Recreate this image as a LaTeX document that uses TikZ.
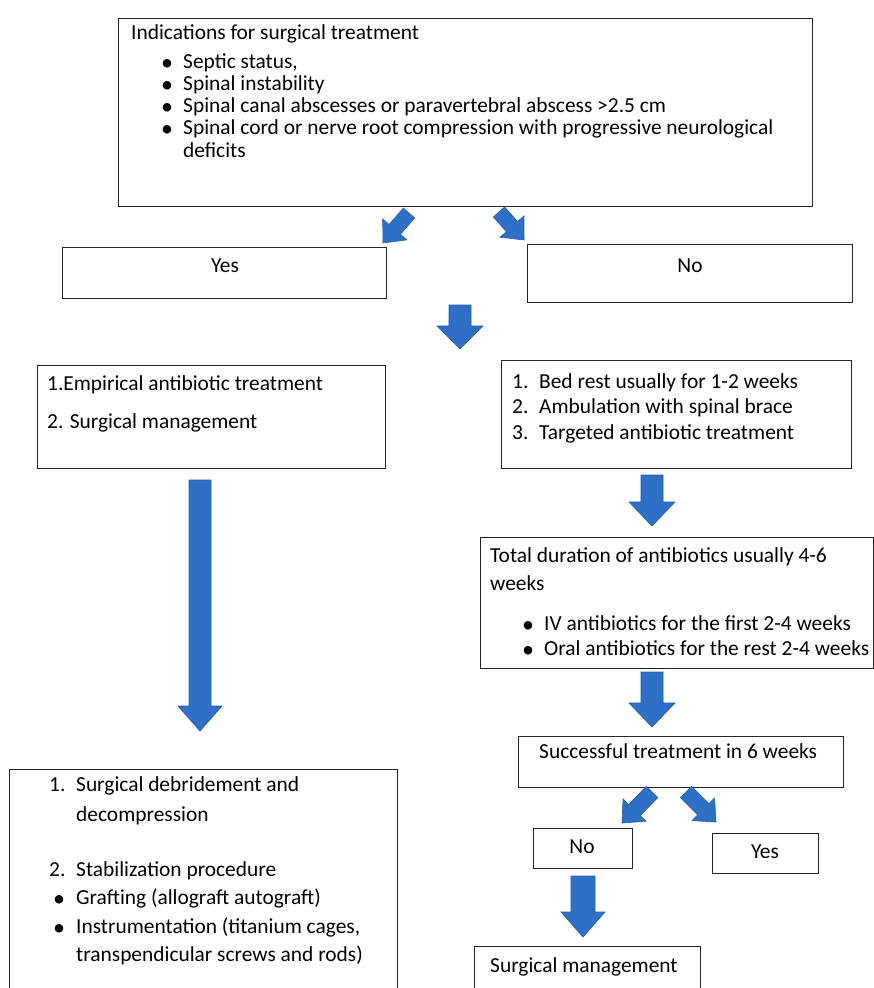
\documentclass[tikz,border=0pt]{standalone}
\usepackage{fontspec}
\setmainfont{Carlito}
\usetikzlibrary{calc}
\definecolor{arrowblue}{RGB}{46,112,198}
\definecolor{arrowedge}{RGB}{38,92,170}
\tikzset{
  boxnode/.style={draw=black!85, line width=1.2pt, inner sep=0pt, anchor=north west},
  ln/.style={anchor=base west, inner sep=0pt, font=\fontsize{21.4}{23}\selectfont},
  lnc/.style={anchor=base, inner sep=0pt, font=\fontsize{21.4}{23}\selectfont},
  blockarrow/.style={fill=arrowblue, draw=arrowedge, line width=0.6pt, line join=miter},
}
\newcommand\bigbul{\smash{\raisebox{-2pt}{\fontsize{24}{24}\selectfont\textbullet}}}
\newcommand\bul{\makebox[22pt][l]{\bigbul}}
\newcommand\bulw{\makebox[23pt][l]{\bigbul}}
\newcommand\numl[1]{\makebox[27pt][l]{#1}}
% start, end, shaft half width, head half width, head length
\newcommand\barrow[5]{%
  \coordinate (bac) at ($(#2)!#5!(#1)$);
  \path[blockarrow] ($(#1)!#3!90:(#2)$) -- ($(bac)!#3!90:(#2)$) -- ($(bac)!#4!90:(#2)$) -- (#2)
    -- ($(bac)!#4!-90:(#2)$) -- ($(bac)!#3!-90:(#2)$) -- ($(#1)!#3!-90:(#2)$) -- cycle;
}
\begin{document}
\begin{tikzpicture}[x=1pt,y=-1pt]
\useasboundingbox[fill=white] (0,0) rectangle (874,988);

% ---------- boxes ----------
\node[boxnode, minimum width=694pt, minimum height=188pt] (top) at (118,18) {};
\node[boxnode, minimum width=324pt, minimum height=51pt] (yes1) at (62,247) {};
\node[boxnode, minimum width=325pt, minimum height=58pt] (no1) at (527,244) {};
\node[boxnode, minimum width=348pt, minimum height=103pt] (emp) at (37,365) {};
\node[boxnode, minimum width=350pt, minimum height=108pt] (bed) at (501,360) {};
\node[boxnode, minimum width=393pt, minimum height=131pt] (tot) at (480,537) {};
\node[boxnode, minimum width=325pt, minimum height=51pt] (succ) at (518,736) {};
\node[boxnode, minimum width=99pt, minimum height=40pt] (no2) at (533,828) {};
\node[boxnode, minimum width=106pt, minimum height=40pt] (yes2) at (712,833) {};
\node[boxnode, minimum width=226pt, minimum height=80pt] (surg) at (474,946) {};
\node[boxnode, minimum width=388pt, minimum height=260pt] (deb) at (9,769) {};

% ---------- texts ----------
\node[ln] (t0) at (131,39) {Indications for surgical treatment};
\node[ln] (t1) at (161,68) {\bul Septic status,};
\node[ln] (t2) at (161,90) {\bul Spinal instability};
\node[ln] (t3) at (161,112) {\bul Spinal canal abscesses or paravertebral abscess >2.5 cm};
\node[ln] (t4) at (161,134) {\bul Spinal cord or nerve root compression with progressive neurological};
\node[ln] (t5) at (183,157) {deficits};

\node[lnc] (tyes1) at (225,272) {Yes};
\node[lnc] (tno1) at (690,272) {No};

\node[ln] (e1) at (47,390) {1.Empirical antibiotic treatment};
\node[ln] (e2) at (47,428) {2. Surgical management};

\node[ln] (b1) at (512,388) {\numl{1.}Bed rest usually for 1-2 weeks};
\node[ln] (b2) at (512,413) {\numl{2.}Ambulation with spinal brace};
\node[ln] (b3) at (512,439) {\numl{3.}Targeted antibiotic treatment};

\node[ln] (d1) at (490,562) {Total duration of antibiotics usually 4-6};
\node[ln] (d2) at (490,590) {weeks};
\node[ln] (d3) at (522,630) {\bul IV antibiotics for the first 2-4 weeks};
\node[ln] (d4) at (522,655) {\bul Oral antibiotics for the rest 2-4 weeks};

\node[ln] (s1) at (539,758) {Successful treatment in 6 weeks};
\node[lnc] (tno2) at (582,853) {No};
\node[lnc] (tyes2) at (765,858) {Yes};
\node[ln] (sm) at (490,972) {Surgical management};

\node[ln] (g1) at (49,791) {\numl{1.}Surgical debridement and};
\node[ln] (g2) at (76,821) {decompression};
\node[ln] (g3) at (49,876) {\numl{2.}Stabilization procedure};
\node[ln] (g4) at (53,904) {\bulw Grafting (allograft autograft)};
\node[ln] (g5) at (53,933) {\bulw Instrumentation (titanium cages,};
\node[ln] (g6) at (76,961) {transpendicular screws and rods)};

% ---------- arrows ----------
\coordinate (a1s) at (409,213); \coordinate (a1e) at (383,243);
\coordinate (a2s) at (499,212); \coordinate (a2e) at (524,240);
\coordinate (a3s) at (460,305); \coordinate (a3e) at (460,349);
\coordinate (a4s) at (200,480); \coordinate (a4e) at (200,731);
\coordinate (a5s) at (652,475); \coordinate (a5e) at (652,526);
\coordinate (a6s) at (652,672); \coordinate (a6e) at (652,727);
\coordinate (a7s) at (652,792); \coordinate (a7e) at (622,823);
\coordinate (a8s) at (686,792); \coordinate (a8e) at (716,822);
\coordinate (a9s) at (583,876); \coordinate (a9e) at (583,937);

\barrow{a1s}{a1e}{7.5pt}{16pt}{18pt}
\barrow{a2s}{a2e}{7.5pt}{16pt}{18pt}
\barrow{a3s}{a3e}{11pt}{23pt}{23pt}
\barrow{a4s}{a4e}{11pt}{22pt}{25pt}
\barrow{a5s}{a5e}{11pt}{23pt}{24pt}
\barrow{a6s}{a6e}{11pt}{23pt}{24pt}
\barrow{a7s}{a7e}{8pt}{16pt}{18pt}
\barrow{a8s}{a8e}{8pt}{16pt}{18pt}
\barrow{a9s}{a9e}{12pt}{22pt}{25pt}
\end{tikzpicture}
\end{document}
